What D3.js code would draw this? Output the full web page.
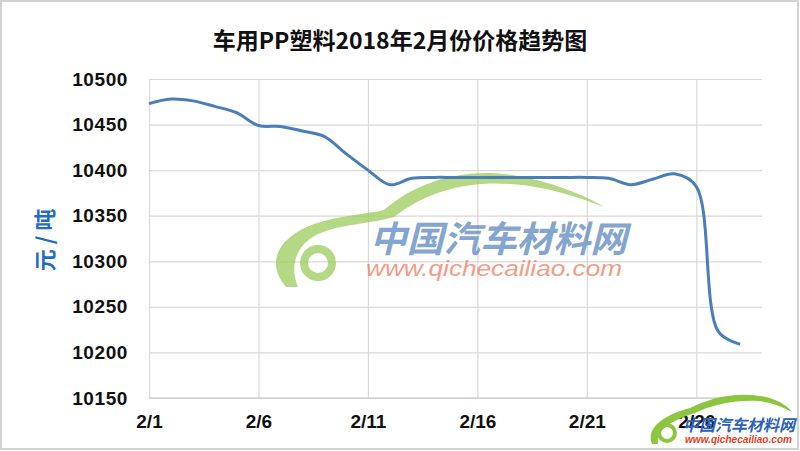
<html>
<head>
<meta charset="utf-8">
<script src="https://d3js.org/d3.v7.min.js"></script>
<style>
body { margin: 0; background: white; }
svg text { font-family: "Liberation Sans", Arial, sans-serif; }
</style>
</head>
<body>
<svg id="chart" width="800" height="451"></svg>
<script>
// daily price, 2/1 .. 2/28
var days = d3.range(1, 29);
var prices = [10473, 10478, 10476, 10470, 10463, 10449, 10448, 10443, 10437, 10418,
              10400, 10384, 10391, 10392, 10392, 10392, 10392, 10392, 10392, 10392,
              10392, 10391, 10384, 10390, 10396, 10382, 10223, 10209];
var yTicks = [10150, 10200, 10250, 10300, 10350, 10400, 10450, 10500];
var xTicks = [1, 6, 11, 16, 21, 26];
var title = "车用PP塑料2018年2月份价格趋势图";
var yLabel = "元 / 吨";

var svg = d3.select("#chart");

// frame
svg.append("rect").attr("x", 1).attr("y", 1).attr("width", 797).attr("height", 448)
  .attr("fill", "white").attr("stroke", "#d4d4d4").attr("stroke-width", 2);

var x = d3.scaleLinear().domain([1, 29]).range([149, 762]);
var y = d3.scaleLinear().domain([10150, 10500]).range([398, 79]);

// horizontal grid
svg.append("g")
  .attr("transform", "translate(149,0)")
  .call(d3.axisLeft(y).tickValues(yTicks).tickSize(-613).tickFormat(""))
  .call(g => g.select(".domain").remove())
  .selectAll("line").attr("stroke", "#d9d9d9").attr("stroke-width", 1.2);

// vertical grid
svg.append("g")
  .attr("transform", "translate(0,398)")
  .call(d3.axisBottom(x).tickValues(xTicks).tickSize(-319).tickFormat(""))
  .call(g => g.select(".domain").remove())
  .selectAll("line").attr("stroke", "#d9d9d9").attr("stroke-width", 1.2);

svg.append("line").attr("x1", 149).attr("x2", 762).attr("y1", 398).attr("y2", 398)
  .attr("stroke", "#d0d0d0").attr("stroke-width", 1.5);

// y tick labels
svg.append("g")
  .attr("transform", "translate(149,0)")
  .call(d3.axisLeft(y).tickValues(yTicks).tickSize(0).tickPadding(21).tickFormat(d3.format("d")))
  .call(g => g.select(".domain").remove())
  .selectAll("text")
    .attr("font-size", 19).attr("font-weight", "bold").attr("fill", "#111")
    .attr("letter-spacing", 0.6)
    .style("font-family", "'Liberation Sans', Arial, sans-serif");

// x tick labels
svg.append("g")
  .attr("transform", "translate(0,398)")
  .call(d3.axisBottom(x).tickValues(xTicks).tickSize(0).tickPadding(17).tickFormat(d => "2/" + d))
  .call(g => g.select(".domain").remove())
  .selectAll("text")
    .attr("font-size", 19).attr("font-weight", "bold").attr("fill", "#111")
    .style("font-family", "'Liberation Sans', Arial, sans-serif");

// watermark (center)
var wm = svg.append("g").attr("opacity", 0.75);
wm.append("path")
  .attr("d", "M286,287 C266,264 276,238 314,224 C342,215 368,214 384,210 C420,178 470,168 512,175 C550,181 585,195 604,207 C575,196 545,186 510,184 C470,181 428,190 394,217 C370,224 340,224 318,234 C294,246 290,268 298,287 Z")
  .attr("fill", "#9ccb5a");
wm.append("circle").attr("cx", 318).attr("cy", 263).attr("r", 14)
  .attr("fill", "none").attr("stroke", "#9ccb5a").attr("stroke-width", 8);
wm.append("text").attr("x", 370).attr("y", 252).attr("textLength", 257)
  .attr("lengthAdjust", "spacingAndGlyphs")
  .attr("font-size", 36).attr("font-weight", "bold").attr("font-style", "italic")
  .attr("fill", "#5d88c2").style("font-family", "'Noto Sans CJK SC', sans-serif")
  .text("中国汽车材料网");
wm.append("text").attr("x", 366).attr("y", 276).attr("textLength", 256)
  .attr("lengthAdjust", "spacingAndGlyphs")
  .attr("font-size", 22).attr("font-style", "italic")
  .attr("fill", "#ef7c5f")
  .text("www.qichecailiao.com");

// watermark (bottom right)
var wm2 = svg.append("g");
wm2.append("path")
  .attr("d", "M652,444 C646,430 660,416 690,408 C712,397 735,392 760,396 C775,398 787,405 792,412 C780,406 770,402 758,401 C735,400 715,404 695,413 C670,421 656,430 658,444 Z")
  .attr("fill", "#8cc63f");
wm2.append("circle").attr("cx", 667).attr("cy", 433).attr("r", 8)
  .attr("fill", "none").attr("stroke", "#8cc63f").attr("stroke-width", 4);
wm2.append("text").attr("x", 683).attr("y", 431).attr("textLength", 112)
  .attr("lengthAdjust", "spacingAndGlyphs")
  .attr("font-size", 16).attr("font-weight", "bold").attr("font-style", "italic")
  .attr("fill", "#2a63b8").style("font-family", "'Noto Sans CJK SC', sans-serif")
  .text("中国汽车材料网");
wm2.append("text").attr("x", 685).attr("y", 443).attr("textLength", 107)
  .attr("lengthAdjust", "spacingAndGlyphs")
  .attr("font-size", 11).attr("font-weight", "bold").attr("font-style", "italic")
  .attr("fill", "#e8401c")
  .text("www.qichecailiao.com");

// price line
var line = d3.line()
  .x((d, i) => x(days[i]))
  .y(d => y(d))
  .curve(d3.curveCatmullRom.alpha(0.5));

svg.append("path")
  .datum(prices)
  .attr("d", line)
  .attr("fill", "none")
  .attr("stroke", "#4a7ebb")
  .attr("stroke-width", 3)
  .attr("stroke-linejoin", "round");

// title
svg.append("text")
  .attr("x", 400).attr("y", 49)
  .attr("text-anchor", "middle")
  .attr("font-size", 23).attr("font-weight", "bold").attr("fill", "#111")
  .style("font-family", "'Noto Sans CJK SC', sans-serif")
  .text(title);

// y axis label
svg.append("text")
  .attr("transform", "translate(53,240) rotate(-90)")
  .attr("text-anchor", "middle")
  .attr("font-size", 22).attr("font-weight", "bold").attr("fill", "#1f6fc0")
  .style("font-family", "'Noto Sans CJK SC', sans-serif")
  .text(yLabel);
</script>
</body>
</html>
